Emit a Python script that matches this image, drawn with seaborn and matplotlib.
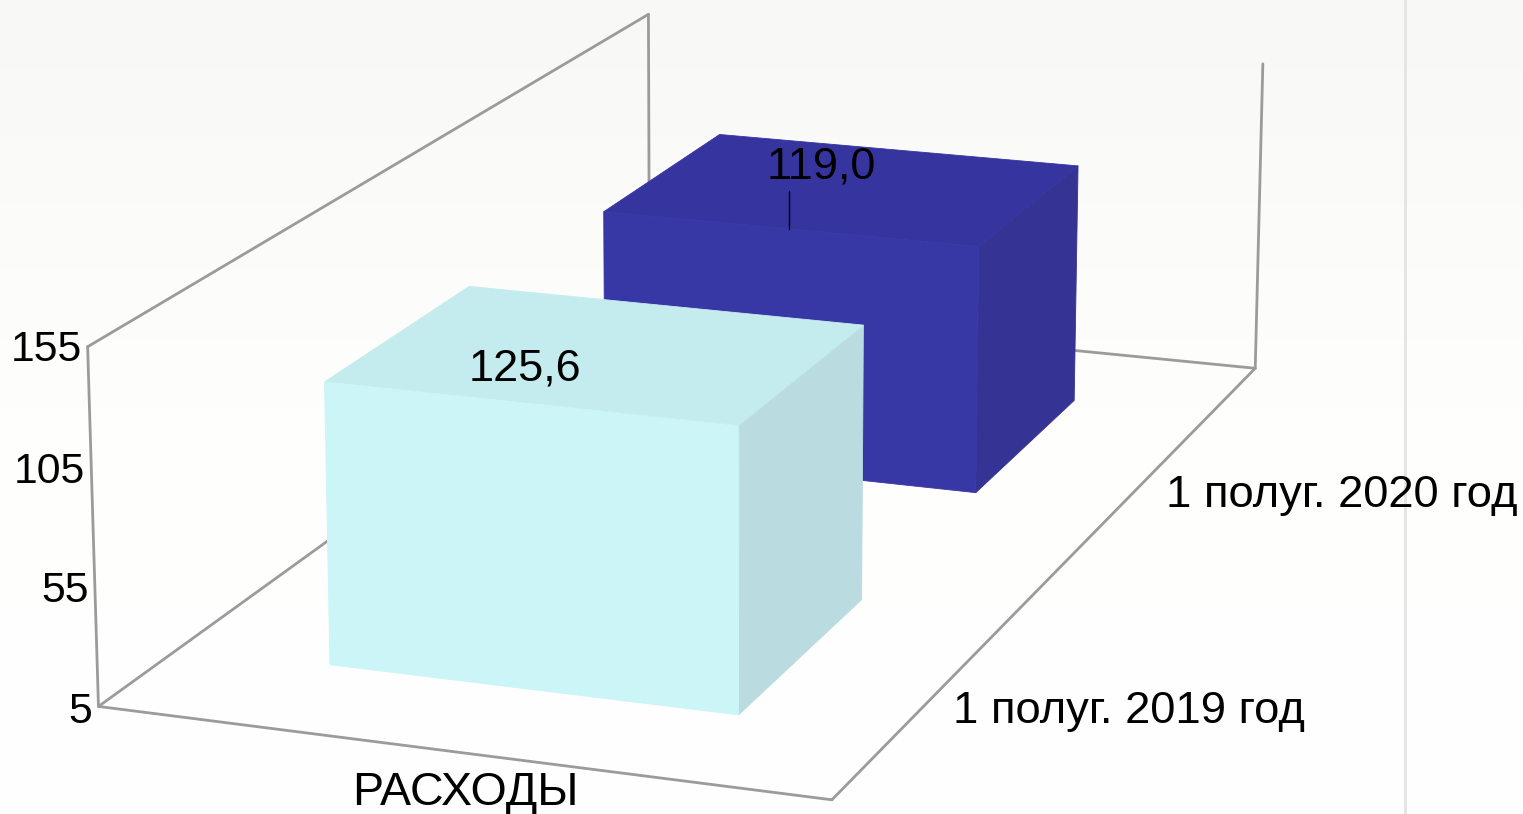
import numpy as np
import pandas as pd
import matplotlib
matplotlib.use('Agg')
import matplotlib.pyplot as plt
import seaborn as sns

# Data
series_labels = ['1 полуг. 2019 год', '1 полуг. 2020 год']
category_label = 'РАСХОДЫ'
values = [125.6, 119.0]
value_labels = ['125,6', '119,0']
y_ticks = [5, 55, 105, 155]

# Bar colours: front, top, side
light_faces = ['#ccf5f7', '#c4ecee', '#badce0']
dark_faces = ['#3837a6', '#3635a0', '#353394']

W, H = 1523, 814
Z_MIN, Z_MAX = y_ticks[0], y_ticks[-1]

# Box corners (x, depth, z) and where they land on the canvas.
# The camera matrix is fitted from these, everything else goes through it.
box_corners = [(0, 0, Z_MIN), (1, 0, Z_MIN), (1, 1, Z_MIN), (0, 1, Z_MIN),
               (0, 0, Z_MAX), (0, 1, Z_MAX), (1, 1, Z_MAX)]
canvas_corners = [(98, 706), (832, 800), (1255, 368), (650, 309),
                  (88, 347), (648, 14), (1263, 64)]


def fit_camera(world, canvas):
    rows, rhs = [], []
    for (x, y, z), (u, v) in zip(world, canvas):
        rows.append([x, y, z, 1, 0, 0, 0, 0, -u * x, -u * y, -u * z])
        rows.append([0, 0, 0, 0, x, y, z, 1, -v * x, -v * y, -v * z])
        rhs += [u, v]
    p = np.linalg.lstsq(np.array(rows, float), np.array(rhs, float), rcond=None)[0]
    return np.append(p, 1).reshape(3, 4)


camera = fit_camera(box_corners, canvas_corners)


def project(x, y, z):
    q = camera @ np.array([x, y, z, 1.0])
    return q[0] / q[2], q[1] / q[2]


sns.set_theme(style='white')
plt.rcParams['font.family'] = ['Liberation Sans', 'DejaVu Sans']

fig = plt.figure(figsize=(W / 100, H / 100), dpi=100)
ax = fig.add_axes([0, 0, 1, 1])

# Soft background gradient, slightly grey at the top
gradient = np.linspace(0, 1, 256).reshape(-1, 1)
cmap = matplotlib.colors.LinearSegmentedColormap.from_list('bg', ['#f8f9f7', '#fefefd', '#ffffff'])
ax.imshow(gradient, extent=(0, W, H, 0), aspect='auto', cmap=cmap, zorder=0)
ax.plot([1405, 1405], [0, H], color='#e3e4e3', lw=2, zorder=0.5)

# Frame edges
edges = [((0, 0, Z_MIN), (1, 0, Z_MIN)), ((1, 0, Z_MIN), (1, 1, Z_MIN)),
         ((1, 1, Z_MIN), (0, 1, Z_MIN)), ((0, 1, Z_MIN), (0, 0, Z_MIN)),
         ((0, 0, Z_MIN), (0, 0, Z_MAX)), ((0, 0, Z_MAX), (0, 1, Z_MAX)),
         ((0, 1, Z_MAX), (0, 1, Z_MIN)), ((1, 1, Z_MIN), (1, 1, Z_MAX))]
frame = pd.DataFrame([
    {'edge': i, 'order': j, 'px': project(*p)[0], 'py': project(*p)[1]}
    for i, e in enumerate(edges) for j, p in enumerate(e)
])
sns.lineplot(data=frame, x='px', y='py', units='edge', estimator=None, sort=False,
             color='#9b9b9b', lw=2, ax=ax, zorder=1)


def draw_bar(value, y0, y1, faces, zorder):
    x0, x1 = 0.215, 0.787
    front = [(x0, y0, Z_MIN), (x1, y0, Z_MIN), (x1, y0, value), (x0, y0, value)]
    top = [(x0, y0, value), (x1, y0, value), (x1, y1, value), (x0, y1, value)]
    side = [(x1, y0, Z_MIN), (x1, y1, Z_MIN), (x1, y1, value), (x1, y0, value)]
    for pts, col in zip([side, top, front], [faces[2], faces[1], faces[0]]):
        xy = np.array([project(*p) for p in pts])
        ax.fill(xy[:, 0], xy[:, 1], color=col, lw=0.6, zorder=zorder)


# Back series first so the front one covers it
draw_bar(values[1], 0.625, 0.87, dark_faces, 2)
draw_bar(values[0], 0.125, 0.37, light_faces, 3)


def label(x, y, s, size, ha='center'):
    ax.text(x, y, s, ha=ha, va='center_baseline', fontsize=size, color='black', zorder=5)


for tick in y_ticks:
    px, py = project(0, 0, tick)
    label(px - 6, py - 1 if tick > Z_MIN else py + 1, str(tick), 30.8, ha='right')

label(465, 788, category_label, 33.5)
label(953, 707, series_labels[0], 32.7, ha='left')
label(1166, 491, series_labels[1], 32.7, ha='left')

label(525, 365, value_labels[0], 32.5)
label(821, 163, value_labels[1], 32.5)
ax.plot([789, 789], [191, 229], color='black', lw=1, zorder=5)

ax.set_xlim(0, W)
ax.set_ylim(H, 0)
ax.set_xlabel('')
ax.set_ylabel('')
ax.axis('off')

fig.savefig('out.png', dpi=100)
